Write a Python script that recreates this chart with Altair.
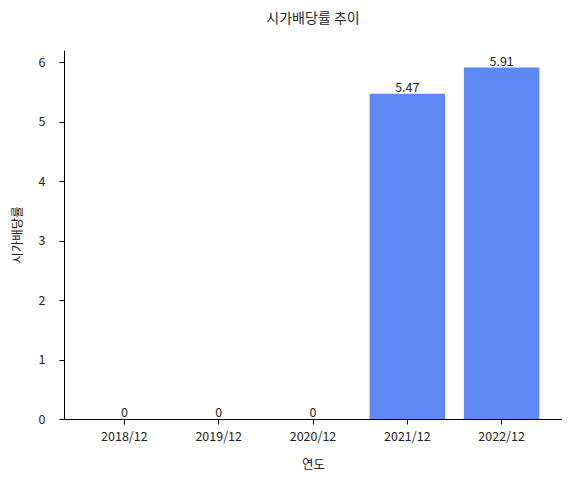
import altair as alt
import pandas as pd

years = ["2018/12", "2019/12", "2020/12", "2021/12", "2022/12"]
values = [0, 0, 0, 5.47, 5.91]
labels = ["0", "0", "0", "5.47", "5.91"]

df = pd.DataFrame({"연도": years, "시가배당률": values, "label": labels})

FONT = "Noto Sans CJK KR"

x = alt.X("연도:N", sort=years,
          scale=alt.Scale(paddingInner=0.2, paddingOuter=0.24),
          axis=alt.Axis(title="연도", labelAngle=0, labelFontSize=12.5, titleFontSize=12.5,
                        titlePadding=16, tickSize=5, labelPadding=6,
                        domainColor="black", tickColor="black", labelColor="#222",
                        titleColor="#222", titleFontWeight="normal", grid=False))
y = alt.Y("시가배당률:Q",
          scale=alt.Scale(domain=[0, 6.2055], nice=False, zero=True),
          axis=alt.Axis(title="시가배당률", values=[0, 1, 2, 3, 4, 5, 6], format="d",
                        labelFontSize=12.5, titleFontSize=12.5, tickSize=5, labelPadding=14,
                        titlePadding=14,
                        domainColor="black", tickColor="black", labelColor="#222",
                        titleColor="#222", titleFontWeight="normal", grid=False))

bars = alt.Chart(df).mark_bar(color="#5e89f5").encode(x=x, y=y)
text = alt.Chart(df).mark_text(baseline="bottom", dy=1, fontSize=12.5, color="#222", font=FONT).encode(
    x=alt.X("연도:N", sort=years), y="시가배당률:Q", text="label:N")

chart = (bars + text).properties(
    width=498, height=369,
    title=alt.TitleParams("시가배당률 추이", fontSize=14, fontWeight="normal", color="#222",
                          offset=24, font=FONT),
    autosize=alt.AutoSizeParams(type="none"),
    padding={"left": 56, "top": 42, "right": 0, "bottom": 60},
).configure(font=FONT).configure_view(stroke=None).configure_axis(labelFont=FONT, titleFont=FONT)

chart.save("out.html", embed_options={"renderer": "svg", "actions": False})
